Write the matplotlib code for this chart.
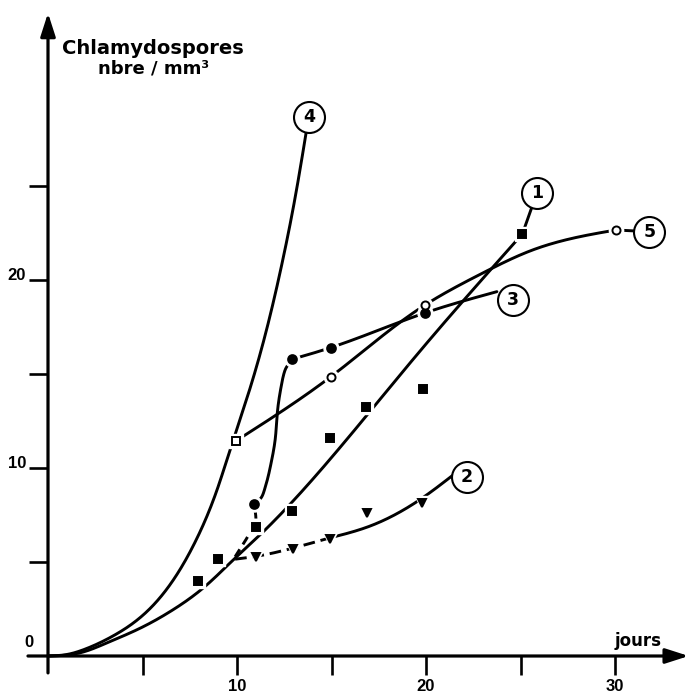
import numpy as np
import matplotlib
matplotlib.use('Agg')
import matplotlib.pyplot as plt

# ---- values (days, chlamydospores / mm3) ----
c4_days = [0, 1.0, 2.0, 3.5, 5.0, 6.6, 7.9, 9.0, 9.55, 10.8, 11.55, 12.45, 13.15, 13.7]
c4_vals = [0, 0.08, 0.38, 1.1, 2.15, 4.0, 6.3, 9.0, 10.7, 14.6, 17.3, 21.2, 24.8, 28.1]

c1_days = [0, 1.0, 1.85, 3.1, 4.9, 6.6, 8.4, 9.8, 11.1, 19.5, 25.1]
c1_vals = [0, 0.05, 0.21, 0.69, 1.49, 2.45, 3.78, 5.11, 6.33, 16.0, 22.45]
sq_days = [7.95, 9.0, 11.0, 12.9, 14.9, 16.85, 19.85, 25.1]
sq_vals = [4.0, 5.15, 6.85, 7.7, 11.6, 13.25, 14.2, 22.45]

c2_dash_days = [9.9, 11.0, 13.0, 14.9]
c2_dash_vals = [5.15, 5.3, 5.75, 6.28]
c2_days = [14.9, 16.9, 19.8, 21.4]
c2_vals = [6.28, 6.86, 8.4, 9.6]
tri_days = [11.0, 12.95, 14.9, 16.9, 19.8]
tri_vals = [5.27, 5.7, 6.22, 7.6, 8.15]

c3_lead_days = [9.9, 10.7, 11.0, 10.9]
c3_lead_vals = [5.28, 6.6, 7.3, 8.09]
c3_days = [10.9, 11.3, 11.5, 11.75, 12.03, 12.15, 12.33, 12.54, 12.9]
c3_vals = [8.09, 8.45, 9.0, 10.0, 11.6, 13.1, 14.3, 15.2, 15.78]
c3_tail_days = [12.9, 14.95, 19.95, 23.75]
c3_tail_vals = [15.78, 16.4, 18.25, 19.38]
fc_days = [10.9, 12.9, 14.95, 19.95]
fc_vals = [8.09, 15.78, 16.4, 18.25]

c5_days = [9.96, 14.97, 19.95, 23.0, 25.65, 27.8, 30.05]
c5_vals = [11.45, 14.86, 18.67, 20.37, 21.6, 22.23, 22.66]
oc_days = [14.97, 19.95, 30.05]
oc_vals = [14.86, 18.67, 22.66]
osq_days = [9.96]
osq_vals = [11.45]

curve_names = ['1', '2', '3', '4', '5']
name_days = [25.86, 22.17, 24.58, 13.83, 31.82]
name_vals = [24.61, 9.52, 18.94, 28.69, 22.57]

x_ticks = [5, 10, 15, 20, 25, 30]
x_labels = ['', '10', '', '20', '', '30']
y_ticks = [5, 10, 15, 20, 25]
y_labels = ['', '10', '', '20', '']


def pchip(x, y, xi):
  x = np.asarray(x, float); y = np.asarray(y, float)
  h = np.diff(x)
  d = np.diff(y) / h
  m = np.zeros_like(y)
  m[0] = d[0]; m[-1] = d[-1]
  for k in range(1, len(x) - 1):
    if d[k - 1] * d[k] > 0:
      w1 = 2 * h[k] + h[k - 1]
      w2 = h[k] + 2 * h[k - 1]
      m[k] = (w1 + w2) / (w1 / d[k - 1] + w2 / d[k])
  idx = np.clip(np.searchsorted(x, xi) - 1, 0, len(x) - 2)
  t = (xi - x[idx]) / h[idx]
  h00 = 2 * t**3 - 3 * t**2 + 1
  h10 = t**3 - 2 * t**2 + t
  h01 = -2 * t**3 + 3 * t**2
  h11 = t**3 - t**2
  return h00 * y[idx] + h10 * h[idx] * m[idx] + h01 * y[idx + 1] + h11 * h[idx] * m[idx + 1]


def natural(x, y, xi):
  x = np.asarray(x, float); y = np.asarray(y, float)
  n = len(x)
  if n < 3:
    return np.interp(xi, x, y)
  h = np.diff(x)
  A = np.zeros((n, n)); b = np.zeros(n)
  A[0, 0] = 1; A[-1, -1] = 1
  for i in range(1, n - 1):
    A[i, i - 1] = h[i - 1]
    A[i, i] = 2 * (h[i - 1] + h[i])
    A[i, i + 1] = h[i]
    b[i] = 6 * ((y[i + 1] - y[i]) / h[i] - (y[i] - y[i - 1]) / h[i - 1])
  M = np.linalg.solve(A, b)
  i = np.clip(np.searchsorted(x, xi) - 1, 0, n - 2)
  hi = h[i]
  a = x[i + 1] - xi
  c = xi - x[i]
  return (M[i] * a**3 / (6 * hi) + M[i + 1] * c**3 / (6 * hi)
          + (y[i] / hi - M[i] * hi / 6) * a + (y[i + 1] / hi - M[i + 1] * hi / 6) * c)


def smooth(xs, ys, fn=natural, n=400):
  xs = np.asarray(xs, float); ys = np.asarray(ys, float)
  t = np.concatenate([[0], np.cumsum(np.hypot(np.diff(xs), np.diff(ys)))])
  tt = np.linspace(0, t[-1], n)
  return fn(t, xs, tt), fn(t, ys, tt)


fig = plt.figure(figsize=(6.9, 6.94), dpi=100)
ax = fig.add_axes([0, 0, 1, 1])
ax.set_xlim(-48 / 18.9, 642 / 18.9)
ax.set_ylim(-38 / 18.8, 656 / 18.8)

for s in ['top', 'right']:
  ax.spines[s].set_visible(False)
ax.spines['left'].set_position(('data', 0))
ax.spines['bottom'].set_position(('data', 0))
ax.spines['left'].set_visible(False)
ax.spines['bottom'].set_visible(False)

ax.set_xticks(x_ticks)
ax.set_xticklabels(x_labels)
ax.set_yticks(y_ticks)
ax.set_yticklabels(y_labels)
ax.tick_params(axis='both', direction='out', length=13.7, width=1.9, colors='k')
ax.tick_params(axis='x', pad=2.9, labelsize=12)
ax.tick_params(axis='y', pad=2.2, labelsize=12)
for lab in ax.get_xticklabels() + ax.get_yticklabels():
  lab.set_fontweight('bold')
  lab.set_family(['Liberation Sans', 'DejaVu Sans'])
for lab in ax.get_yticklabels():
  lab.set_va('baseline')

# axes with arrow heads
arr = dict(arrowstyle='-|>,head_length=1.4,head_width=0.45', lw=2.3, color='k',
           shrinkA=0, shrinkB=0)
ax.annotate('', xy=(33.9, 0), xytext=(-1.06, 0), arrowprops=arr, annotation_clip=False)
ax.annotate('', xy=(0, 34.2), xytext=(0, -0.9), arrowprops=arr, annotation_clip=False)

lw = 2.1
kw = dict(color='k', lw=lw, solid_capstyle='round', zorder=3)

x = np.linspace(0, c4_days[-1], 400)
ax.plot(x, natural(c4_days, c4_vals, x), **kw)
x = np.linspace(0, c1_days[-1], 400)
ax.plot(x, natural(c1_days, c1_vals, x), **kw)
x, y = smooth(c2_dash_days, c2_dash_vals); ax.plot(x, y, ls=(0, (4.0, 2.0)), **kw)
x, y = smooth(c2_days, c2_vals); ax.plot(x, y, **kw)
x, y = smooth(c3_lead_days, c3_lead_vals, pchip); ax.plot(x, y, ls=(0, (3.0, 2.0)), **kw)
x, y = smooth(c3_days, c3_vals, pchip); ax.plot(x, y, **kw)
x, y = smooth(c3_tail_days, c3_tail_vals); ax.plot(x, y, **kw)
x, y = smooth(c5_days, c5_vals); ax.plot(x, y, **kw)

# connectors to the curve numbers
ax.plot([sq_days[-1], name_days[0]], [sq_vals[-1], name_vals[0]], **kw)
ax.plot([oc_days[-1], name_days[4]], [oc_vals[-1], name_vals[4]], **kw)

# markers, with a white halo so the lines break around them
def marks(xs, ys, m, size, fill, edge=1.4):
  ax.plot(xs, ys, ls='none', marker=m, ms=size + 4.5, mfc='white', mec='white', zorder=4)
  ax.plot(xs, ys, ls='none', marker=m, ms=size, mfc=fill, mec='k', mew=edge, zorder=5)

marks(sq_days, sq_vals, 's', 5.3, 'k')
marks(tri_days, tri_vals, 'v', 6.0, 'k')
marks(fc_days, fc_vals, 'o', 6.3, 'k')
marks(oc_days, oc_vals, 'o', 5.8, 'white')
marks(osq_days, osq_vals, 's', 5.8, 'white')

for name, d, v in zip(curve_names, name_days, name_vals):
  ax.plot(d, v, marker='o', ms=22.3, mfc='white', mec='k', mew=1.5, zorder=6)
  ax.text(d, v, name, ha='center', va='center', fontsize=12.5, fontweight='bold',
          zorder=7)

ax.text(5.56, 32.02, 'Chlamydospores', ha='center', va='baseline', fontsize=14,
        fontweight='bold')
ax.text(5.56, 31.0, 'nbre / mm\u00b3', ha='center', va='baseline', fontsize=13,
        fontweight='bold')
ax.text(31.2, 0.53, 'jours', ha='center', va='baseline', fontsize=12, fontweight='bold')
ax.text(-1.0, 0.5, '0', ha='center', va='baseline', fontsize=12, fontweight='bold',
        family=['Liberation Sans', 'DejaVu Sans'])

fig.savefig('out.png', dpi=100)
